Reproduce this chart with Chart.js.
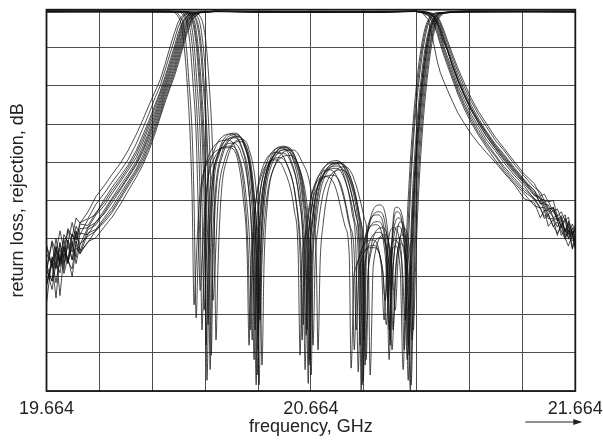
<!DOCTYPE html>
<html>
<head>
<meta charset="utf-8">
<script src="https://cdn.jsdelivr.net/npm/chart.js@4.4.1/dist/chart.umd.min.js"></script>
<style>
html,body{margin:0;padding:0;background:#fff;}
#wrap{width:603px;height:441px;}
</style>
</head>
<body>
<div id="wrap"><canvas id="chart" width="603" height="441"></canvas></div>
<script>
// Axis ticks: 0.2 GHz grid, labels at start / centre / end only; 5 dB grid
const freqTicks = [19.664, 19.864, 20.064, 20.264, 20.464, 20.664, 20.864, 21.064, 21.264, 21.464, 21.664];
const freqTickLabels = ['19.664', '', '', '', '', '20.664', '', '', '', '', '21.664'];
const dbTicks = [0, -5, -10, -15, -20, -25, -30, -35, -40, -45, -50];

// Transmission (rejection) traces of the filter batch, sampled on one frequency grid (GHz)
const s21Freq = [19.664,19.685,19.700,19.715,19.730,19.745,19.761,19.776,19.791,19.821,19.851,19.882,19.912,19.942,19.972,20.003,20.029,20.052,20.075,20.094,20.112,20.131,20.147,20.162,20.173,20.184,20.199,20.218,20.245,20.302,20.472,20.699,20.926,21.058,21.085,21.108,21.127,21.142,21.153,21.164,21.180,21.199,21.221,21.244,21.270,21.297,21.327,21.361,21.395,21.433,21.471,21.509,21.532,21.547,21.562,21.581,21.596,21.611,21.626,21.638,21.653,21.664];

const s21_01 = [-34.0,-30.3,-31.8,-29.0,-31.5,-28.7,-29.8,-27.3,-28.0,-26.5,-24.5,-23.1,-21.6,-20.2,-18.5,-16.4,-14.4,-12.5,-10.7,-9.2,-7.2,-4.9,-3.1,-1.6,-1.0,-0.6,-0.4,-0.3,-0.3,-0.2,-0.25,-0.3,-0.25,-0.2,-0.25,-0.4,-0.7,-1.3,-2.0,-3.2,-4.9,-6.7,-8.7,-10.6,-12.5,-14.2,-15.9,-17.6,-19.0,-20.7,-22.3,-23.7,-24.9,-24.9,-26.1,-26.0,-27.6,-27.0,-29.1,-27.7,-29.6,-28.7];
const s21_02 = [-30.8,-33.5,-31.0,-33.3,-29.5,-30.5,-27.9,-30.1,-27.9,-27.4,-25.5,-24.1,-22.6,-21.2,-19.7,-17.6,-15.5,-13.6,-11.5,-10.0,-8.0,-5.8,-4.0,-2.3,-1.4,-0.8,-0.5,-0.35,-0.3,-0.2,-0.3,-0.35,-0.3,-0.2,-0.3,-0.5,-0.9,-1.75,-2.8,-4.1,-5.3,-7.4,-9.5,-11.3,-13.2,-14.8,-16.5,-18.1,-19.6,-21.2,-22.7,-24.0,-25.4,-25.5,-25.6,-27.3,-26.9,-28.6,-27.6,-30.1,-28.6,-30.1];
const s21_03 = [-34.3,-30.5,-33.8,-30.7,-32.5,-28.9,-30.8,-28.4,-29.5,-27.5,-26.8,-24.9,-23.3,-21.9,-20.4,-18.5,-16.4,-14.5,-12.4,-10.7,-8.8,-6.7,-4.9,-3.1,-2.0,-1.2,-0.65,-0.37,-0.3,-0.2,-0.2,-0.25,-0.3,-0.2,-0.3,-0.5,-1.0,-2.0,-3.2,-4.5,-6.1,-7.9,-10.0,-11.8,-13.7,-15.25,-17.0,-18.5,-20.1,-21.7,-23.1,-24.9,-25.1,-26.4,-26.2,-27.3,-28.5,-27.6,-29.0,-28.1,-31.2,-29.5];
const s21_04 = [-31.1,-33.8,-31.2,-33.7,-31.2,-33.2,-29.4,-30.7,-28.7,-28.6,-26.9,-25.7,-24.1,-22.6,-21.1,-19.4,-17.35,-15.35,-13.3,-11.4,-9.6,-7.6,-5.8,-4.0,-2.7,-1.6,-0.8,-0.4,-0.3,-0.25,-0.3,-0.3,-0.35,-0.2,-0.33,-0.6,-1.25,-2.4,-3.6,-4.9,-6.5,-8.35,-10.45,-12.3,-14.1,-15.7,-17.4,-19.0,-20.6,-22.1,-23.55,-24.7,-26.0,-25.9,-27.4,-27.4,-27.5,-29.6,-28.7,-29.9,-29.0,-31.4];
const s21_05 = [-38.5,-32.4,-33.3,-30.5,-33.2,-30.9,-32.8,-29.1,-30.8,-28.5,-27.9,-26.3,-24.7,-23.1,-21.6,-19.9,-17.9,-15.9,-13.7,-11.8,-10.0,-8.0,-6.25,-4.45,-3.1,-2.0,-1.0,-0.5,-0.3,-0.2,-0.25,-0.2,-0.25,-0.2,-0.27,-0.43,-0.8,-1.5,-2.4,-3.6,-5.3,-7.2,-9.3,-11.2,-13.15,-14.8,-16.55,-18.2,-19.75,-21.4,-22.8,-24.4,-24.7,-25.9,-26.8,-26.3,-27.6,-27.3,-29.6,-28.4,-29.6,-30.5];
const s21_06 = [-33.4,-35.6,-31.6,-33.3,-30.1,-33.2,-30.8,-32.5,-29.3,-29.5,-27.8,-26.8,-25.3,-23.7,-22.1,-20.4,-18.6,-16.65,-14.5,-12.6,-10.7,-8.8,-7.15,-5.35,-4.0,-2.7,-1.4,-0.64,-0.35,-0.2,-0.35,-0.3,-0.3,-0.23,-0.37,-0.7,-1.5,-2.8,-4.1,-5.3,-6.9,-8.75,-10.8,-12.65,-14.45,-16.1,-17.7,-19.2,-20.9,-22.4,-23.85,-24.9,-26.1,-27.1,-26.8,-28.5,-27.8,-29.0,-30.1,-28.9,-30.3,-30.0];
const s21_07 = [-36.1,-32.6,-35.8,-32.4,-33.5,-30.3,-32.8,-30.8,-32.0,-29.3,-28.8,-27.3,-25.9,-24.2,-22.6,-20.9,-19.1,-17.1,-14.9,-13.0,-11.0,-9.2,-7.6,-5.8,-4.45,-3.1,-1.6,-0.7,-0.35,-0.2,-0.3,-0.25,-0.2,-0.2,-0.24,-0.37,-0.6,-1.0,-1.75,-2.8,-4.4,-6.2,-8.2,-10.1,-12.0,-13.7,-15.3,-17.1,-18.5,-20.25,-21.85,-23.3,-23.9,-25.1,-25.1,-26.6,-26.1,-27.5,-26.9,-29.5,-28.1,-29.3];
const s21_08 = [-33.8,-36.7,-33.2,-34.5,-31.4,-33.0,-34.0,-30.4,-31.7,-30.5,-28.9,-27.9,-26.6,-24.9,-23.2,-21.5,-19.9,-18.0,-15.75,-13.8,-11.8,-10.0,-8.4,-6.7,-5.35,-4.0,-2.3,-1.0,-0.4,-0.25,-0.3,-0.3,-0.35,-0.24,-0.4,-0.8,-1.75,-3.2,-4.5,-5.7,-7.3,-9.1,-11.2,-13.0,-14.8,-16.4,-18.0,-19.7,-21.2,-22.7,-24.15,-25.7,-26.0,-27.4,-26.9,-28.4,-29.3,-28.4,-30.0,-31.0,-29.5,-31.2];
const s21_09 = [-36.2,-33.3,-37.8,-32.0,-34.6,-32.5,-35.0,-31.2,-32.0,-30.4,-29.9,-28.5,-27.2,-25.6,-23.8,-22.0,-20.3,-18.45,-16.2,-14.1,-12.2,-10.3,-8.8,-7.15,-5.8,-4.45,-2.7,-1.2,-0.4,-0.25,-0.2,-0.3,-0.25,-0.2,-0.23,-0.33,-0.5,-0.9,-1.5,-2.4,-4.0,-5.8,-7.75,-9.6,-11.6,-13.3,-14.9,-16.7,-18.2,-19.9,-21.55,-22.8,-24.4,-24.2,-25.2,-25.0,-27.1,-26.5,-27.7,-27.2,-29.5,-28.2];
const s21_10 = [-32.0,-33.4,-30.0,-33.1,-31.1,-32.7,-29.4,-30.2,-28.1,-28.3,-26.6,-25.3,-23.7,-22.3,-20.75,-18.9,-16.9,-14.9,-12.8,-11.0,-9.2,-7.15,-5.35,-3.6,-2.3,-1.4,-0.7,-0.39,-0.3,-0.2,-0.25,-0.3,-0.3,-0.2,-0.29,-0.47,-0.9,-1.75,-2.8,-4.1,-5.2,-7.4,-9.3,-11.1,-12.9,-14.5,-16.1,-17.8,-19.2,-20.9,-22.4,-24.3,-24.5,-25.5,-26.5,-26.0,-27.3,-28.4,-27.3,-28.7,-29.8,-28.6];
const s21_11 = [-36.0,-33.0,-34.0,-31.3,-34.1,-30.2,-31.8,-29.0,-31.6,-28.8,-28.2,-26.6,-24.9,-23.5,-21.9,-20.2,-18.3,-16.3,-14.1,-12.2,-10.3,-8.4,-6.7,-4.9,-3.6,-2.3,-1.2,-0.56,-0.33,-0.2,-0.3,-0.25,-0.3,-0.2,-0.4,-1.3,-4.2,-6.8,-8.2,-9.2,-10.5,-12.0,-13.6,-14.9,-16.3,-17.5,-18.7,-20.0,-21.4,-22.9,-24.8,-25.3,-27.3,-26.3,-28.4,-27.5,-29.6,-28.0,-29.9,-28.9,-31.4,-30.0];
const s21_12 = [-34.2,-35.6,-31.9,-37.5,-32.0,-33.3,-30.4,-33.3,-30.7,-29.7,-29.0,-27.6,-26.3,-24.6,-22.9,-21.2,-19.5,-17.6,-15.35,-13.4,-11.4,-9.6,-8.0,-6.25,-4.9,-3.6,-2.0,-0.8,-0.37,-0.2,-0.25,-0.35,-0.25,-0.2,-0.27,-0.43,-0.8,-1.5,-2.4,-3.6,-5.25,-7.1,-9.1,-11.0,-12.9,-14.55,-16.2,-17.9,-19.4,-21.05,-22.55,-23.7,-25.5,-25.2,-26.2,-25.9,-27.7,-27.5,-29.2,-27.9,-29.2,-30.5];

// Return-loss traces of the same batch, [frequency GHz, dB] pairs
const s11_01 = [[19.664,-0.2],[20.05,-0.25],[20.147,-0.3],[20.165,-0.7],[20.181,-1.9],[20.192,-4.6],[20.203,-9.6],[20.215,-16.4],[20.222,-25.0],[20.230,-40.4],[20.237,-33.1],[20.249,-24.7],[20.271,-19.7],[20.351,-17.1],[20.381,-18.4],[20.411,-23.7],[20.427,-32.2],[20.434,-42.0],[20.442,-33.1],[20.453,-26.3],[20.476,-21.3],[20.540,-18.7],[20.570,-20.0],[20.608,-25.3],[20.623,-32.2],[20.631,-43.3],[20.638,-33.1],[20.650,-28.6],[20.672,-23.6],[20.737,-21.0],[20.767,-22.3],[20.805,-27.6],[20.820,-32.2],[20.828,-44.6],[20.839,-33.5],[20.896,-30.2],[20.930,-33.5],[20.941,-40.7],[20.953,-31.9],[20.975,-28.6],[21.006,-31.9],[21.017,-44.6],[21.028,-31.5],[21.040,-22.3],[21.055,-14.5],[21.070,-9.0],[21.085,-5.0],[21.100,-2.4],[21.119,-0.9],[21.149,-0.4],[21.30,-0.25],[21.664,-0.2]];
const s11_02 = [[19.664,-0.3],[20.05,-0.2],[20.169,-0.3],[20.188,-0.7],[20.203,-1.9],[20.215,-4.6],[20.226,-9.6],[20.237,-16.4],[20.245,-25.0],[20.252,-42.0],[20.260,-33.1],[20.271,-23.9],[20.294,-18.9],[20.366,-16.3],[20.396,-17.6],[20.427,-22.9],[20.442,-32.2],[20.449,-45.9],[20.457,-33.1],[20.468,-25.7],[20.491,-20.7],[20.555,-18.1],[20.585,-19.4],[20.619,-24.7],[20.635,-32.2],[20.642,-47.2],[20.650,-33.1],[20.661,-27.7],[20.684,-22.7],[20.756,-20.1],[20.786,-21.4],[20.820,-26.7],[20.835,-32.2],[20.843,-47.5],[20.854,-32.2],[20.911,-28.2],[20.945,-32.2],[20.956,-38.1],[20.968,-31.3],[20.994,-27.3],[21.021,-31.3],[21.032,-48.6],[21.043,-31.5],[21.055,-22.3],[21.070,-14.5],[21.085,-9.0],[21.100,-5.0],[21.115,-2.4],[21.134,-0.9],[21.164,-0.4],[21.30,-0.3],[21.664,-0.25]];
const s11_03 = [[19.664,-0.15],[20.05,-0.2],[20.184,-0.3],[20.203,-0.7],[20.218,-1.9],[20.230,-4.6],[20.241,-9.6],[20.252,-16.4],[20.260,-25.0],[20.268,-44.0],[20.275,-33.1],[20.287,-24.4],[20.309,-19.4],[20.374,-16.8],[20.404,-18.1],[20.434,-23.4],[20.449,-32.2],[20.457,-49.2],[20.464,-33.1],[20.476,-26.0],[20.498,-21.0],[20.567,-18.4],[20.597,-19.7],[20.627,-25.0],[20.642,-32.2],[20.650,-42.0],[20.657,-33.1],[20.669,-28.1],[20.691,-23.1],[20.767,-20.5],[20.797,-21.8],[20.835,-27.1],[20.850,-32.2],[20.858,-49.2],[20.869,-33.2],[20.922,-29.2],[20.953,-33.2],[20.964,-43.3],[20.975,-33.9],[20.998,-29.9],[21.024,-33.9],[21.036,-39.4],[21.047,-31.5],[21.058,-22.3],[21.074,-14.5],[21.089,-9.0],[21.104,-5.0],[21.119,-2.4],[21.138,-0.9],[21.168,-0.4],[21.30,-0.2],[21.664,-0.3]];
const s11_04 = [[19.664,-0.25],[20.05,-0.3],[20.199,-0.3],[20.218,-0.7],[20.233,-1.9],[20.245,-4.6],[20.256,-9.6],[20.268,-16.4],[20.275,-25.0],[20.283,-47.2],[20.290,-33.1],[20.302,-24.2],[20.324,-19.2],[20.385,-16.6],[20.415,-17.9],[20.442,-23.2],[20.457,-32.2],[20.464,-44.6],[20.472,-33.1],[20.483,-25.6],[20.506,-20.6],[20.574,-18.0],[20.604,-19.3],[20.638,-24.6],[20.654,-32.2],[20.661,-45.9],[20.669,-33.1],[20.680,-27.6],[20.703,-22.6],[20.775,-20.0],[20.805,-21.3],[20.843,-26.6],[20.858,-32.2],[20.865,-43.3],[20.877,-29.6],[20.926,-25.6],[20.956,-29.6],[20.968,-36.8],[20.979,-31.8],[21.002,-27.8],[21.028,-31.8],[21.040,-49.9],[21.051,-31.5],[21.062,-22.3],[21.077,-14.5],[21.093,-9.0],[21.108,-5.0],[21.123,-2.4],[21.142,-0.9],[21.172,-0.4],[21.30,-0.25],[21.664,-0.2]];
const s11_05 = [[19.664,-0.2],[20.05,-0.15],[20.211,-0.3],[20.230,-0.7],[20.245,-1.9],[20.256,-4.6],[20.268,-9.6],[20.279,-16.4],[20.287,-25.0],[20.294,-38.1],[20.302,-33.1],[20.313,-24.9],[20.336,-19.9],[20.396,-17.3],[20.427,-18.6],[20.449,-23.9],[20.464,-32.2],[20.472,-40.7],[20.479,-33.1],[20.491,-26.7],[20.514,-21.7],[20.585,-19.1],[20.616,-20.4],[20.650,-25.7],[20.665,-32.2],[20.672,-44.0],[20.680,-33.1],[20.691,-28.6],[20.714,-23.6],[20.782,-21.0],[20.812,-22.3],[20.850,-27.6],[20.865,-32.2],[20.873,-45.9],[20.884,-32.6],[20.934,-28.6],[20.964,-32.6],[20.975,-42.0],[20.987,-33.5],[21.009,-29.5],[21.036,-33.5],[21.047,-43.3],[21.058,-31.5],[21.070,-22.3],[21.085,-14.5],[21.100,-9.0],[21.115,-5.0],[21.130,-2.4],[21.149,-0.9],[21.180,-0.4],[21.30,-0.2],[21.664,-0.25]];
const s11_06 = [[19.664,-0.3],[20.05,-0.25],[20.162,-0.3],[20.181,-0.7],[20.196,-1.9],[20.207,-4.6],[20.218,-9.6],[20.230,-16.4],[20.237,-25.0],[20.245,-36.8],[20.252,-33.1],[20.264,-25.5],[20.287,-20.5],[20.362,-17.9],[20.392,-19.2],[20.419,-24.5],[20.434,-32.2],[20.442,-43.3],[20.449,-33.1],[20.461,-27.0],[20.483,-22.0],[20.548,-19.4],[20.578,-20.7],[20.612,-26.0],[20.627,-32.2],[20.635,-41.3],[20.642,-33.1],[20.654,-29.3],[20.676,-24.3],[20.748,-21.7],[20.778,-23.0],[20.812,-28.3],[20.828,-32.2],[20.835,-42.0],[20.847,-34.0],[20.903,-30.9],[20.934,-34.0],[20.945,-38.1],[20.956,-33.5],[20.979,-30.2],[21.009,-33.5],[21.021,-40.7],[21.032,-31.5],[21.043,-22.3],[21.058,-14.5],[21.074,-9.0],[21.089,-5.0],[21.104,-2.4],[21.123,-0.9],[21.153,-0.4],[21.30,-0.3],[21.664,-0.2]];
const s11_07 = [[19.664,-0.2],[20.05,-0.2],[20.188,-0.3],[20.207,-0.7],[20.222,-1.9],[20.233,-4.6],[20.245,-9.6],[20.256,-16.4],[20.264,-25.0],[20.271,-48.6],[20.279,-33.1],[20.290,-23.8],[20.313,-18.8],[20.377,-16.2],[20.408,-17.5],[20.438,-22.8],[20.453,-32.2],[20.461,-47.9],[20.468,-33.1],[20.479,-25.5],[20.502,-20.5],[20.563,-17.9],[20.593,-19.2],[20.631,-24.5],[20.646,-32.2],[20.654,-49.0],[20.661,-33.1],[20.672,-27.4],[20.695,-22.4],[20.763,-19.8],[20.794,-21.1],[20.831,-26.4],[20.847,-32.2],[20.854,-49.9],[20.865,-30.9],[20.915,-26.9],[20.949,-30.9],[20.960,-45.9],[20.971,-30.5],[20.990,-26.5],[21.017,-30.5],[21.028,-45.9],[21.040,-31.5],[21.051,-22.3],[21.066,-14.5],[21.081,-9.0],[21.096,-5.0],[21.112,-2.4],[21.130,-0.9],[21.161,-0.4],[21.30,-0.2],[21.664,-0.3]];
const s11_08 = [[19.664,-0.25],[20.05,-0.2],[20.222,-0.3],[20.241,-0.7],[20.256,-1.9],[20.268,-4.6],[20.279,-9.6],[20.290,-16.4],[20.298,-25.0],[20.305,-43.3],[20.313,-33.1],[20.324,-24.6],[20.347,-19.6],[20.404,-17.0],[20.430,-18.3],[20.457,-23.6],[20.472,-32.2],[20.479,-46.6],[20.487,-33.1],[20.498,-26.0],[20.521,-21.0],[20.597,-18.4],[20.627,-19.7],[20.669,-25.0],[20.684,-32.2],[20.691,-44.6],[20.699,-33.1],[20.710,-28.2],[20.733,-23.2],[20.794,-20.6],[20.824,-21.9],[20.865,-27.2],[20.881,-32.2],[20.888,-47.9],[20.900,-33.5],[20.945,-29.5],[20.971,-33.5],[20.983,-39.4],[20.994,-32.6],[21.013,-28.6],[21.040,-32.6],[21.051,-42.0],[21.062,-31.5],[21.074,-22.3],[21.089,-14.5],[21.104,-9.0],[21.119,-5.0],[21.134,-2.4],[21.153,-0.9],[21.183,-0.4],[21.30,-0.25],[21.664,-0.2]];
const s11_09 = [[19.664,-0.15],[20.05,-0.25],[20.177,-0.3],[20.196,-0.7],[20.211,-1.9],[20.222,-4.6],[20.233,-9.6],[20.245,-16.4],[20.252,-25.0],[20.260,-39.4],[20.268,-33.1],[20.279,-25.1],[20.302,-20.1],[20.370,-17.5],[20.400,-18.8],[20.430,-24.1],[20.445,-32.2],[20.453,-42.0],[20.461,-33.1],[20.472,-26.4],[20.495,-21.4],[20.559,-18.8],[20.589,-20.1],[20.623,-25.4],[20.638,-32.2],[20.646,-42.7],[20.654,-33.1],[20.665,-28.4],[20.688,-23.4],[20.760,-20.8],[20.790,-22.1],[20.828,-27.4],[20.843,-32.2],[20.850,-44.0],[20.862,-31.8],[20.918,-27.8],[20.949,-31.8],[20.960,-42.0],[20.971,-32.4],[20.994,-28.4],[21.021,-32.4],[21.032,-44.0],[21.043,-31.5],[21.055,-22.3],[21.070,-14.5],[21.085,-9.0],[21.100,-5.0],[21.115,-2.4],[21.134,-0.9],[21.164,-0.4],[21.30,-0.15],[21.664,-0.25]];
const s11_10 = [[19.664,-0.3],[20.05,-0.3],[20.203,-0.3],[20.222,-0.7],[20.237,-1.9],[20.249,-4.6],[20.260,-9.6],[20.271,-16.4],[20.279,-25.0],[20.287,-45.3],[20.294,-33.1],[20.305,-24.3],[20.328,-19.3],[20.389,-16.7],[20.419,-18.0],[20.445,-23.3],[20.461,-32.2],[20.468,-49.2],[20.476,-33.1],[20.487,-25.9],[20.510,-20.9],[20.578,-18.3],[20.608,-19.6],[20.642,-24.9],[20.657,-32.2],[20.665,-47.9],[20.672,-33.1],[20.684,-27.8],[20.707,-22.8],[20.778,-20.2],[20.809,-21.5],[20.847,-26.8],[20.862,-32.2],[20.869,-46.6],[20.881,-33.9],[20.930,-29.9],[20.960,-33.9],[20.971,-44.6],[20.983,-34.7],[21.002,-30.7],[21.032,-34.7],[21.043,-49.2],[21.055,-31.5],[21.066,-22.3],[21.081,-14.5],[21.096,-9.0],[21.112,-5.0],[21.127,-2.4],[21.146,-0.9],[21.176,-0.4],[21.30,-0.3],[21.664,-0.3]];
const s11_11 = [[19.664,-0.2],[20.05,-0.3],[20.139,-0.3],[20.158,-0.7],[20.173,-1.9],[20.184,-4.6],[20.196,-9.6],[20.207,-16.4],[20.215,-25.0],[20.222,-38.7],[20.230,-33.1],[20.241,-25.7],[20.264,-20.7],[20.355,-18.1],[20.385,-19.4],[20.408,-24.7],[20.423,-32.2],[20.430,-44.0],[20.438,-33.1],[20.449,-27.3],[20.472,-22.3],[20.532,-19.7],[20.563,-21.0],[20.601,-26.3],[20.616,-32.2],[20.623,-45.3],[20.631,-33.1],[20.642,-29.5],[20.665,-24.5],[20.725,-21.9],[20.756,-23.2],[20.794,-28.5],[20.809,-32.2],[20.816,-47.0],[20.828,-34.5],[20.900,-31.2],[20.937,-34.5],[20.949,-41.3],[20.960,-34.3],[20.983,-31.0],[21.002,-34.3],[21.013,-47.2],[21.024,-31.5],[21.036,-22.3],[21.051,-14.5],[21.066,-9.0],[21.081,-5.0],[21.096,-2.4],[21.115,-0.9],[21.146,-0.4],[21.30,-0.2],[21.664,-0.2]];
const s11_12 = [[19.664,-0.25],[20.05,-0.2],[20.192,-0.3],[20.211,-0.7],[20.226,-1.9],[20.237,-4.6],[20.249,-9.6],[20.260,-16.4],[20.268,-25.0],[20.275,-41.3],[20.283,-33.1],[20.294,-24.0],[20.317,-19.0],[20.381,-16.4],[20.411,-17.7],[20.442,-23.0],[20.457,-32.2],[20.464,-42.7],[20.472,-33.1],[20.483,-25.7],[20.506,-20.7],[20.570,-18.1],[20.601,-19.4],[20.635,-24.7],[20.650,-32.2],[20.657,-46.6],[20.665,-33.1],[20.676,-27.7],[20.699,-22.7],[20.771,-20.1],[20.801,-21.4],[20.839,-26.7],[20.854,-32.2],[20.862,-48.6],[20.873,-30.5],[20.922,-26.5],[20.953,-30.5],[20.964,-44.0],[20.971,-29.9],[20.987,-25.9],[21.021,-29.9],[21.036,-45.3],[21.047,-31.5],[21.058,-22.3],[21.074,-14.5],[21.089,-9.0],[21.104,-5.0],[21.119,-2.4],[21.138,-0.9],[21.168,-0.4],[21.30,-0.25],[21.664,-0.3]];

const s21Traces = [s21_01, s21_02, s21_03, s21_04, s21_05, s21_06, s21_07, s21_08, s21_09, s21_10, s21_11, s21_12];
const s11Traces = [s11_01, s11_02, s11_03, s11_04, s11_05, s11_06, s11_07, s11_08, s11_09, s11_10, s11_11, s11_12];

const traceColor = 'rgba(20,20,20,0.84)';
const datasets = [];
s21Traces.forEach((vals) => {
  datasets.push({
    data: s21Freq.map((f, i) => ({ x: f, y: vals[i] })),
    borderColor: traceColor, borderWidth: 0.9, tension: 0, pointRadius: 0, fill: false
  });
});
s11Traces.forEach((pts) => {
  datasets.push({
    data: pts.map(p => ({ x: p[0], y: p[1] })),
    borderColor: traceColor, borderWidth: 0.9, cubicInterpolationMode: 'monotone', pointRadius: 0, fill: false
  });
});

// heavy frame round the plot area
const framePlugin = {
  id: 'plotFrame',
  afterDatasetsDraw(chart) {
    const { ctx, chartArea: a } = chart;
    ctx.save();
    ctx.strokeStyle = '#1a1a1a';
    ctx.lineWidth = 1.8;
    ctx.strokeRect(a.left, a.top, a.right - a.left, a.bottom - a.top);
    ctx.restore();
  }
};

// direction arrow under the frequency axis
const arrowPlugin = {
  id: 'freqArrow',
  afterDraw(chart) {
    const { ctx, chartArea: a } = chart;
    const y = a.bottom + 31;
    const x1 = a.right - 50, x2 = a.right + 7;
    ctx.save();
    ctx.strokeStyle = '#222';
    ctx.fillStyle = '#222';
    ctx.lineWidth = 1.2;
    ctx.beginPath();
    ctx.moveTo(x1, y);
    ctx.lineTo(x2 - 6, y);
    ctx.stroke();
    ctx.beginPath();
    ctx.moveTo(x2, y);
    ctx.lineTo(x2 - 9, y - 3);
    ctx.lineTo(x2 - 9, y + 3);
    ctx.closePath();
    ctx.fill();
    ctx.restore();
  }
};

Chart.defaults.font.family = '"Liberation Sans", Arial, Helvetica, sans-serif';
Chart.defaults.color = '#222';

new Chart(document.getElementById('chart').getContext('2d'), {
  type: 'line',
  data: { datasets },
  options: {
    responsive: false,
    animation: false,
    devicePixelRatio: 1,
    layout: { padding: { left: 2, top: 9.7, right: 27.7, bottom: 5 } },
    plugins: { legend: { display: false }, tooltip: { enabled: false } },
    elements: { point: { radius: 0 } },
    scales: {
      x: {
        type: 'linear', min: 19.664, max: 21.664,
        afterBuildTicks: (scale) => { scale.ticks = freqTicks.map(v => ({ value: v })); },
        afterFit: (scale) => { scale.height = 45; scale.paddingLeft = 0; scale.paddingRight = 0; },
        ticks: {
          autoSkip: false, maxRotation: 0, minRotation: 0, padding: 9,
          font: { size: 18, lineHeight: 1 },
          callback: (v, i) => freqTickLabels[i]
        },
        grid: { color: '#4d4d4d', lineWidth: 1, drawTicks: false, tickLength: 0 },
        border: { display: false },
        title: { display: true, text: 'frequency, GHz', font: { size: 18, lineHeight: 1 }, padding: { top: 0, bottom: 0 } }
      },
      y: {
        type: 'linear', min: -50, max: 0,
        afterBuildTicks: (scale) => { scale.ticks = dbTicks.map(v => ({ value: v })); },
        afterFit: (scale) => { scale.width = 44.5; scale.paddingTop = 0; scale.paddingBottom = 0; },
        ticks: { display: false },
        grid: { color: '#4d4d4d', lineWidth: 1, drawTicks: false, tickLength: 0 },
        border: { display: false },
        title: { display: true, text: 'return loss, rejection, dB', font: { size: 18, lineHeight: 1 }, padding: { top: 7.5, bottom: 0 } }
      }
    }
  },
  plugins: [framePlugin, arrowPlugin]
});
</script>
</body>
</html>
